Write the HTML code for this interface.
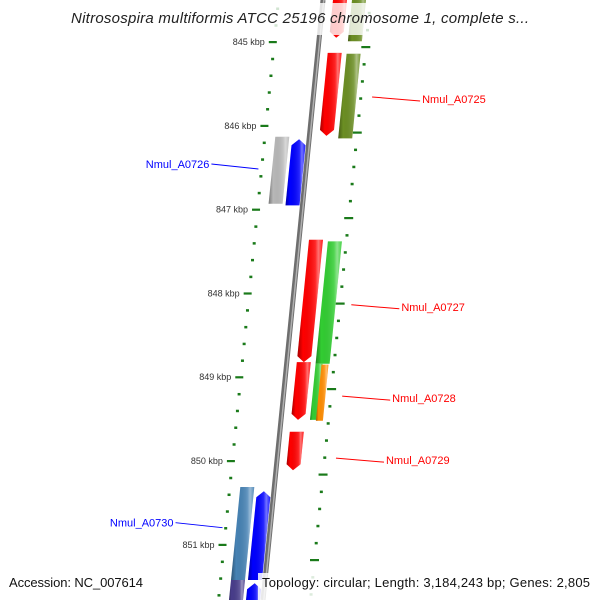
<!DOCTYPE html>
<html><head><meta charset="utf-8"><style>
html,body{margin:0;padding:0;background:#fff}
svg{display:block;font-family:"Liberation Sans",sans-serif}
</style></head><body>
<svg id="map" width="600" height="600" viewBox="0 0 600 600">
<defs>
<linearGradient id="shade" x1="0" y1="0" x2="1" y2="0">
<stop offset="0" stop-color="#000" stop-opacity="0.35"/>
<stop offset="0.22" stop-color="#000" stop-opacity="0"/>
<stop offset="0.7" stop-color="#fff" stop-opacity="0.15"/>
<stop offset="0.82" stop-color="#fff" stop-opacity="0.45"/>
<stop offset="1" stop-color="#fff" stop-opacity="0.1"/>
</linearGradient>
</defs>
<g id="ticks"></g>
<g id="backbone"></g>
<g id="features"></g>
<g id="labels"></g>
<rect x="65" y="3" width="470" height="32" fill="#fff" opacity="0.8"/>
<text x="300" y="23" text-anchor="middle" font-size="15" font-style="italic" fill="#222" textLength="458">Nitrosospira multiformis ATCC 25196 chromosome 1, complete s...</text>
<text x="9" y="587" font-size="13" fill="#111" textLength="134">Accession: NC_007614</text>
<rect x="258" y="573" width="342" height="27" fill="#fff" opacity="0.85"/>
<text x="262" y="587" font-size="13" fill="#111" textLength="328">Topology: circular; Length: 3,184,243 bp; Genes: 2,805</text>
</svg>
<script>
// tick data (kbp)
const majorTicks = [845, 846, 847, 848, 849, 850, 851];
const tickLabels = ["845 kbp","846 kbp","847 kbp","848 kbp","849 kbp","850 kbp","851 kbp"];
// features: start/end kbp, lane, color, direction
const featStart = [844.45, 844.45, 845.13, 845.14, 846.13, 846.16, 847.36, 847.38, 848.82, 848.84, 848.85, 849.65, 850.31, 850.36, 851.42, 851.46];
const featEnd   = [844.95, 844.99, 846.12, 846.15, 846.93, 846.95, 848.82, 848.84, 849.51, 849.51, 849.52, 850.11, 851.42, 851.42, 851.8, 851.8];
const featLane  = [1, 2, 1, 2, -2, -1, 1, 2, 1, 2.1, 2.5, 1, -2, -1, -2, -1];
const featColor = ["#ff0000","#6b8e23","#ff0000","#6b8e23","#b8b8b8","#0000ff","#ff0000","#32cd32","#ff0000","#32cd32","#ff8c00","#ff0000","#4682b4","#0000ff","#483d8b","#0000ff"];
const featDir   = [-1, 0, -1, 0, 0, 1, -1, 0, -1, 0, 0, -1, 0, 1, 0, 1];
// labels
const labelNames = ["Nmul_A0725","Nmul_A0726","Nmul_A0727","Nmul_A0728","Nmul_A0729","Nmul_A0730"];
const labelKbp   = [845.68, 846.48, 848.16, 849.25, 849.99, 850.76];
const labelSide  = [1, -1, 1, 1, 1, -1];
const labelColor = ["#ff0000","#0000ff","#ff0000","#ff0000","#ff0000","#0000ff"];

const NS = "http://www.w3.org/2000/svg";
const yL = k => 42 + (k - 845) * 83.8;      // inner ring
const yR = k => 47 + (k - 845) * 85.5;      // outer ring
const bx = y => 323 - 0.1 * y;              // backbone x at y
function mk(tag, attrs, parent){const e=document.createElementNS(NS,tag);for(const a in attrs)e.setAttribute(a,attrs[a]);parent.appendChild(e);return e;}

// backbone
const bb = document.getElementById('backbone');
const b1 = mk('line',{x1:bx(0),y1:0,x2:bx(600),y2:600,stroke:'#6e6e6e','stroke-width':5},bb);


mk('line',{x1:bx(0)+0.8,y1:0,x2:bx(600)+0.8,y2:600,stroke:'#b0b0b0','stroke-width':1.5},bb);

// ticks
const tg = document.getElementById('ticks');
for (let k = 844.4; k <= 851.8; k += 0.2) {
  const kk = Math.round(k*10)/10;
  const isMajor = Math.abs(kk - Math.round(kk)) < 0.01;
  const y1 = yL(kk), y2 = yR(kk);
  const t1 = mk('rect',{x: isMajor ? bx(y1)-50 : bx(y1)-46, y: y1-1, width: isMajor?8:3, height: isMajor?2.2:2.5, fill:'#1a7a1a'},tg);
  
  
  const t2 = mk('rect',{x: isMajor ? bx(y2)+43 : bx(y2)+46, y: y2-1, width: isMajor?9:3, height: isMajor?2.2:2.5, fill:'#1a7a1a'},tg);
  
  
}
majorTicks.forEach((k,i)=>{
  const y = yL(k);
  const t = mk('text',{x:bx(y)-54,y:y+3,'text-anchor':'end','font-size':9,fill:'#333'},tg);
  t.textContent = tickLabels[i];
  
  
});

// features
const laneOff = l => l >= 1 ? 10 + (l-1)*19 : (l === -1 ? -17 : -34);
const fg = document.getElementById('features');
featStart.forEach((s,i)=>{
  const y0 = yL(s), y1 = yL(featEnd[i]);
  const narrow = featLane[i] === 2.1 || featLane[i] === 2.5;
  const w = narrow ? 7 : 14;
  const off = featLane[i] === 2.5 ? laneOff(2) + 6 : laneOff(Math.floor(featLane[i]));
  const L = y => bx(y) + off;
  let pts;
  const a = 6;
  if (featDir[i] === -1) {
    pts = [[L(y0),y0],[L(y0)+w,y0],[L(y1-a)+w,y1-a],[L(y1)+w/2,y1],[L(y1-a),y1-a]];
  } else if (featDir[i] === 1) {
    pts = [[L(y0+a),y0+a],[L(y0)+w/2,y0],[L(y0+a)+w,y0+a],[L(y1)+w,y1],[L(y1),y1]];
  } else {
    pts = [[L(y0),y0],[L(y0)+w,y0],[L(y1)+w,y1],[L(y1),y1]];
  }
  const p = pts.map(q=>q[0].toFixed(1)+','+q[1].toFixed(1)).join(' ');
  const g = mk('g',{},fg);
  
  
  mk('polygon',{points:p,fill:featColor[i]},g);
  mk('polygon',{points:p,fill:'url(#shade)'},g);
});

// labels
const lg = document.getElementById('labels');
labelNames.forEach((n,i)=>{
  const y = yL(labelKbp[i]);
  const g = mk('g',{},lg);
  
  
  if (labelSide[i] > 0) {
    const x0 = bx(y) + 59;
    mk('line',{x1:x0,y1:y-2,x2:x0+48,y2:y+2,stroke:labelColor[i],'stroke-width':1},g);
    const t = mk('text',{x:x0+50,y:y+4,'font-size':11,fill:labelColor[i]},g);
    t.textContent = n;
  } else {
    const x0 = bx(y) - 48;
    mk('line',{x1:x0,y1:y+3,x2:x0-47,y2:y-2,stroke:labelColor[i],'stroke-width':1},g);
    const t = mk('text',{x:x0-49,y:y+2,'font-size':11,'text-anchor':'end',fill:labelColor[i]},g);
    t.textContent = n;
  }
});
</script>
</body></html>
